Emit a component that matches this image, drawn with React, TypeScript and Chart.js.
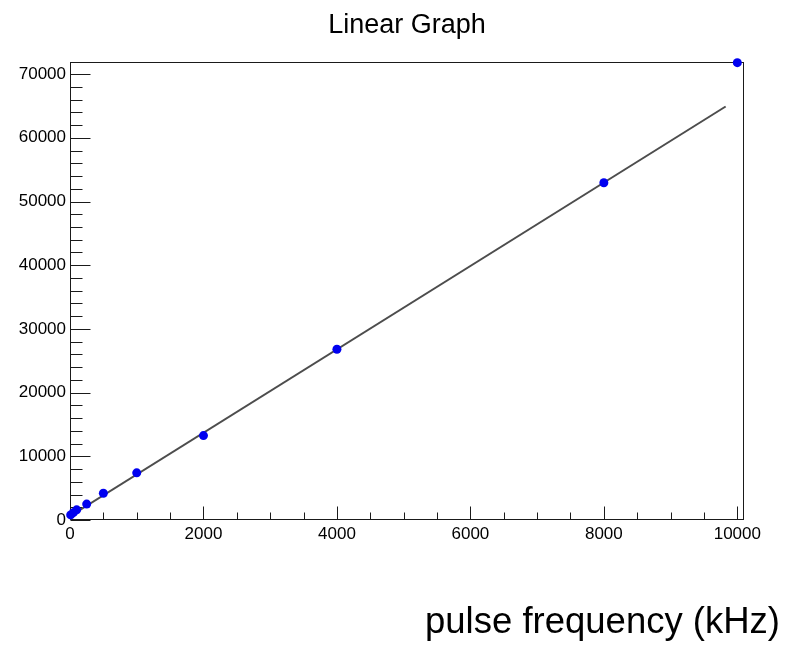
import React, { useEffect, useRef } from 'react';
import { Chart, registerables } from 'chart.js';

Chart.register(...registerables);

// ---- data ----
const frequencies = [10, 50, 100, 250, 500, 1000, 2000, 4000, 8000, 10000];
const counts = [800, 1150, 1600, 2500, 4200, 7400, 13250, 26800, 52950, 71800];
const fitX = [0, 9825];
const fitY = [600, 64910];
const xTickValues = [0, 2000, 4000, 6000, 8000, 10000];
const yTickValues = [0, 10000, 20000, 30000, 40000, 50000, 60000, 70000];
const xMinorStep = 500;
const yMinorStep = 2000;
const xRange = [0, 10100];
const yRange = [0, 71900];
const titleText = 'Linear Graph';
const xAxisTitle = 'pulse frequency (kHz)';

const FONT = '"Liberation Sans", Arial, Helvetica, sans-serif';

const decorPlugin = {
  id: 'decor',
  beforeDatasetsDraw(chart: any) {
    const { ctx, chartArea: ca, scales } = chart;
    const xs = scales.x;
    const ys = scales.y;
    ctx.save();
    ctx.strokeStyle = '#1a1a1a';
    ctx.lineWidth = 1;
    const L = Math.round(ca.left) + 0.5;
    const R = Math.round(ca.right) - 0.5;
    const T = Math.round(ca.top) + 0.5;
    const B = Math.round(ca.bottom) - 0.5;
    ctx.strokeRect(L, T, R - L, B - T);
    ctx.beginPath();
    // x ticks (inward)
    for (let v = xRange[0]; v <= xRange[1] + 1e-6; v += xMinorStep) {
      const major = xTickValues.includes(v);
      const px = Math.round(xs.getPixelForValue(v)) + 0.5;
      const len = major ? 13 : 7;
      ctx.moveTo(px, B);
      ctx.lineTo(px, B - len);
    }
    // y ticks (inward)
    for (let v = yRange[0]; v <= yRange[1] + 1e-6; v += yMinorStep) {
      const major = yTickValues.includes(v);
      const py = Math.round(ys.getPixelForValue(v)) + 0.5;
      const len = major ? 20 : 12;
      ctx.moveTo(L, py);
      ctx.lineTo(L + len, py);
    }
    ctx.stroke();
    ctx.restore();
  },
  afterDraw(chart: any) {
    const { ctx, chartArea: ca } = chart;
    ctx.save();
    ctx.fillStyle = '#000';
    ctx.textBaseline = 'alphabetic';
    ctx.font = `27px ${FONT}`;
    ctx.textAlign = 'center';
    ctx.fillText(titleText, (ca.left + ca.right) / 2, 33);
    ctx.font = `36.5px ${FONT}`;
    ctx.textAlign = 'right';
    ctx.fillText(xAxisTitle, 780, 633);
    ctx.restore();
  },
};

export default function App() {
  const ref = useRef<HTMLCanvasElement | null>(null);
  useEffect(() => {
    if (!ref.current) return;
    const points = frequencies.map((x, i) => ({ x, y: counts[i] }));
    const fit = fitX.map((x, i) => ({ x, y: fitY[i] }));
    const tickFont = { family: FONT, size: 17 };
    const plain = (v: any) => String(v);
    const chart = new Chart(ref.current, {
      type: 'scatter',
      data: {
        datasets: [
          {
            type: 'line',
            label: 'fit',
            data: fit,
            borderColor: '#4d4d4d',
            borderWidth: 2,
            pointRadius: 0,
            showLine: true,
            fill: false,
            order: 2,
          } as any,
          {
            type: 'scatter',
            label: 'data',
            data: points,
            backgroundColor: '#0000f0',
            borderColor: '#0000f0',
            borderWidth: 0,
            pointRadius: 4.5,
            clip: false,
            order: 1,
          } as any,
        ],
      },
      options: {
        animation: false,
        responsive: false,
        devicePixelRatio: 1,
        layout: { padding: { top: 62, right: 42, left: 0, bottom: 0 } },
        plugins: {
          legend: { display: false },
          tooltip: { enabled: false },
          title: { display: false },
        },
        scales: {
          x: {
            type: 'linear',
            position: 'bottom',
            min: xRange[0],
            max: xRange[1],
            grid: { display: false, drawTicks: false, tickLength: 0 },
            border: { display: false },
            ticks: {
              font: tickFont,
              color: '#000',
              padding: 4,
              autoSkip: false,
              maxRotation: 0,
              includeBounds: false,
              callback: plain,
            },
            afterBuildTicks: (s: any) => {
              s.ticks = xTickValues.map((v) => ({ value: v }));
            },
            afterFit: (s: any) => {
              s.height = 126;
            },
          },
          y: {
            type: 'linear',
            position: 'left',
            min: yRange[0],
            max: yRange[1],
            grid: { display: false, drawTicks: false, tickLength: 0 },
            border: { display: false },
            ticks: {
              font: tickFont,
              color: '#000',
              padding: 4,
              autoSkip: false,
              includeBounds: false,
              callback: plain,
            },
            afterBuildTicks: (s: any) => {
              s.ticks = yTickValues.map((v) => ({ value: v }));
            },
            afterFit: (s: any) => {
              s.width = 70;
            },
          },
        },
      } as any,
      plugins: [decorPlugin],
    });
    return () => chart.destroy();
  }, []);
  return (
    <div style={{ position: 'absolute', left: 0, top: 0, width: 786, height: 646, background: '#fff' }}>
      <canvas ref={ref} width={786} height={646} />
    </div>
  );
}
